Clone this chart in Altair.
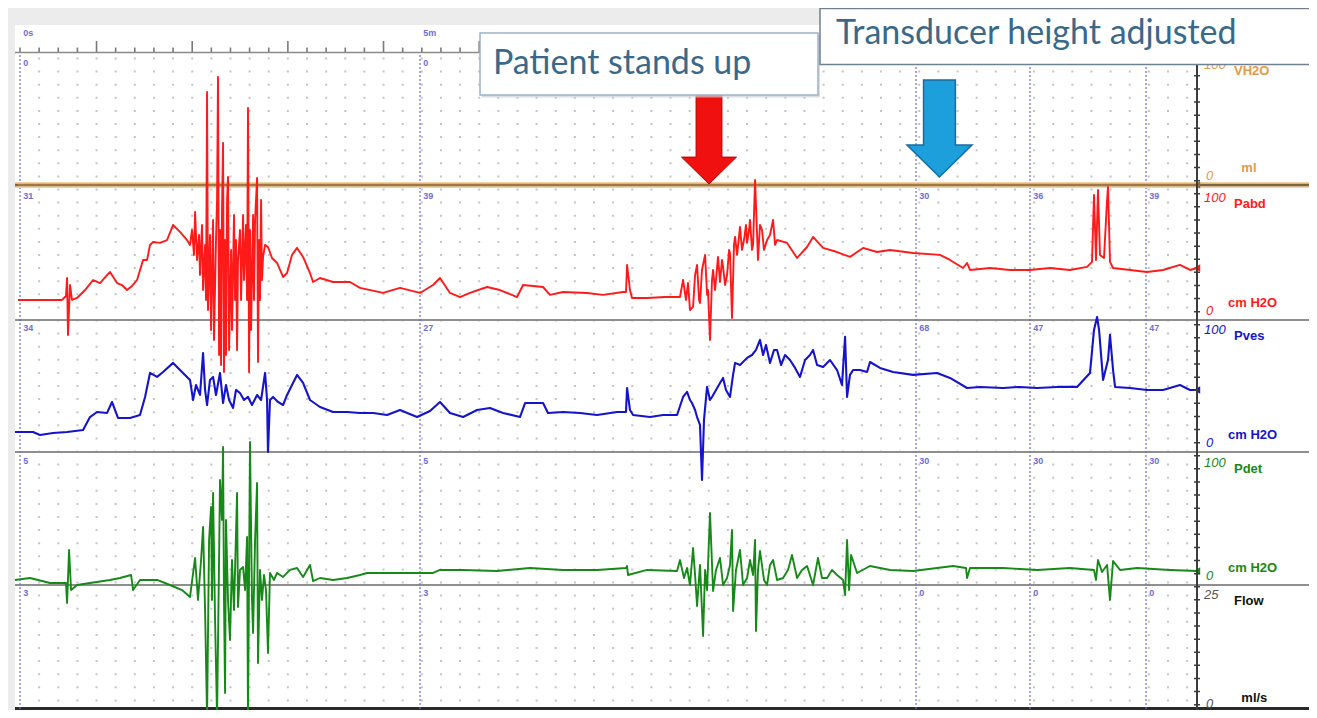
import altair as alt
import pandas as pd

# ---------------- data (time in s, pressure in cmH2O) ----------------
PABD = [(-1.5,15.2),(15,15.2),(31.5,15.2),(34.5,18.2),(35.3,31.8),(36,-11.4),(37.5,26.5),(39,15.2),
 (42.8,16.7),(48.8,22.7),(54.8,30.3),(60,28),(67.5,36.4),(72.8,28),(76.5,26.5),(80.3,22.7),(84,25.8),
 (87.8,30.3),(92.3,45.5),(95.3,45.5),(97.5,56.8),(99.8,59.1),(105,58.4),(110.3,60.6),(114.8,72),
 (120,66.7),(125.3,60.6),(127.5,56.9),(129,68.2),(130.5,49.3),(131.3,81.9),(132.8,45.5),(134.3,64.4),
 (135,34.1),(136.5,72),(137.3,22.7),(138.8,56.9),(139.5,15.2),(140.3,172.8),(141,7.6),(142.5,64.4),
 (143.3,-7.6),(144.8,75.8),(145.5,-15.2),(147,60.6),(147.8,91),(148.5,184.2),(149.3,-26.5),(150,68.2),
 (150.8,-34.1),(151.5,83.4),(152.3,134.2),(153,-39.4),(153.8,60.6),(154.5,-26.5),(155.3,91),(156,108.4),
 (156.8,-22.7),(158.3,53.1),(159,-7.6),(160.5,79.6),(161.3,15.2),(162,60.6),(162.8,-22.7),(163.5,45.5),
 (165,68.2),(165.8,15.2),(167.3,79.6),(168,30.3),(169.5,72),(170.3,15.2),(171,160.7),(171.8,-39.4),
 (172.5,68.2),(173.3,-7.6),(174.8,79.6),(175.5,15.2),(176.3,75.8),(177.8,107.6),(178.5,-31.8),
 (179.3,60.6),(180,15.2),(180.8,91),(181.5,30.3),(182.3,47.8),(183.8,56.9),(186,55.3),(189,47),
 (192.8,43.2),(197.3,32.6),(200.3,35.6),(204,49.3),(207.8,54.6),(212.3,47.8),(217.5,35.6),(219.8,28.8),
 (225,31.8),(234.8,28.8),(247.5,28.8),(255,24.3),(272.3,20.5),(285,24.3),(300,20.5),(309.8,26.5),
 (315,31.8),(322.5,20.5),(330,17.4),(337.5,20.5),(350.3,25),(360,22.7),(372.8,17.4),(377.3,26.5),
 (392.3,25),(397.5,19),(407.3,21.2),(425.3,20.5),(437.3,19),(452.3,21.2),(454.5,21.2),(455.3,41.7),
 (457.5,22.7),(459,16.7),(470.3,16.7),(483.8,17.4),(495,17.4),(497.3,30.3),(499.5,15.2),(501,28),
 (502.5,7.6),(504.8,9.9),(506.3,34.1),(507.8,41.7),(509.3,15.2),(510,12.9),(511.5,37.9),(513.8,49.3),
 (515.3,19),(516,22.7),(517.5,-15.2),(519,30.3),(519.8,37.9),(521.3,22.7),(523.5,47.8),(525,28.8),
 (526.5,45.5),(527.3,40.2),(528.8,26.5),(530.3,34.1),(531.8,53.1),(532.5,50.8),(534,1.5),(535.5,56.9),
 (536.3,62.9),(537.8,49.3),(540,70.5),(541.5,53.1),(543,60.6),(544.5,72),(545.3,58.4),(546.8,68.2),
 (547.5,75.8),(549,53.1),(549.8,56.9),(551.3,106.1),(552.8,64.4),(553.5,45.5),(555,72),(556.5,68.2),
 (558,53.1),(560.3,60.6),(562.5,64.4),(564.8,75.8),(566.3,56.9),(567.8,60.6),(575.3,58.4),(582.8,47),
 (590.3,55.3),(594.8,62.9),(602.3,54.6),(612.8,51.5),(622.5,47.8),(632.3,54.6),(642.8,51.5),(652.5,53),
 (669.8,50.8),(690,49.3),(697.5,45.5),(707.3,39.4),(710.3,43.2),(712.5,37.9),(727.5,39.4),(742.5,37.9),
 (757.5,37.9),(772.5,39.4),(787.5,37.9),(800.3,40.2),(804,44),(805.5,94.7),(807,45.5),(808.5,98.5),
 (810,49.3),(813,47),(815.3,90.9),(816,100.8),(817.5,44),(819.8,39.4),(832.5,37.9),(845.3,36.4),
 (857.3,37.9),(870,41.7),(877.5,37.9),(882.8,39.4)]

PVES = [(-3.8,15.2),(9.8,15.2),(15,12.9),(24.8,14.4),(35.3,15.2),(47.3,16.7),(52.5,26.5),(57.8,30.3),
 (65.3,29.6),(69,37.9),(73.5,25.8),(82.5,25.8),(90,28),(93.8,41.7),(97.5,59.9),(102.8,56.9),(107.3,60.6),
 (114.8,67.5),(121.5,60.6),(127.5,54.6),(129.8,39.4),(132,50.8),(135,43.2),(137.3,75),(138.8,47),
 (140.3,35.6),(142.5,54.6),(144.8,56.9),(147,43.2),(150,59.9),(152.3,37.1),(154.5,50.8),(156.8,39.4),
 (159.8,33.4),(162,47),(165,44.7),(168,39.4),(171,41.7),(174,35.6),(177.8,43.2),(180.8,39.4),(183.8,59.9),
 (185.3,39.4),(186,0),(187.5,39.4),(189.8,41.7),(193.5,37.9),(197.3,35.6),(200.3,43.2),(204,50.8),
 (207.8,58.4),(212.3,52.3),(217.5,39.4),(225,34.1),(234.8,30.3),(245.3,30.3),(255,29.6),(264.8,29.6),
 (275.3,28),(285,31.8),(297.8,26.5),(307.5,31.1),(315,37.9),(322.5,29.6),(332.3,26.5),(342.8,31.8),
 (352.5,33.4),(362.3,29.6),(375,26.5),(378.8,37.1),(392.3,37.1),(396,29.6),(407.3,30.3),(420,29.6),
 (432.8,28),(447.8,30.3),(454.5,30.3),(455.3,48.5),(457.5,31.8),(459.8,28),(472.5,26.5),(482.3,28),
 (492.8,28),(497.3,41.7),(500.3,45.5),(502.5,39.4),(504,37.1),(506.3,31.8),(507.8,26.5),(510,20.5),
 (511.5,-21.2),(513,24.3),(515.3,49.3),(517.5,39.4),(519,41.7),(522,47),(525,52.3),(527.3,56.1),
 (529.5,47),(532.5,41.7),(534.8,58.4),(536.3,67.5),(540,65.9),(545.3,71.3),(549,73.5),(552,77.3),
 (555,84.9),(557.3,73.5),(559.5,81.1),(562.5,67.5),(565.5,77.3),(567.8,77.3),(570.8,65.9),(573.8,73.5),
 (577.5,69.7),(581.3,63.7),(585,56.9),(588.8,69.7),(592.5,73.5),(594.8,77.3),(597.8,65.9),(602.3,64.4),
 (607.5,69.7),(612.8,62.1),(616.5,50.8),(618.8,87.2),(620.3,41.7),(622.5,58.4),(624.8,62.1),(630,62.1),
 (635.3,60.6),(637.5,68.2),(645,63.7),(654.8,60.6),(669.8,58.4),(687.8,59.9),(697.5,56.1),(710.3,48.5),
 (720,49.3),(737.3,48.5),(750,49.3),(762.8,48.5),(777.8,49.3),(792.8,49.3),(802.5,59.9),(805.5,92.5),
 (807.8,102.3),(809.3,92.5),(812.3,54.6),(816,69.7),(817.5,88.7),(819.8,62.1),(821.3,49.3),(832.5,48.5),
 (845.3,47),(857.3,47),(870,50.8),(877.5,47),(882.8,47)]

PDET = [(-3.8,3.8),(7.5,5.3),(22.5,1.5),(32.3,1.5),(34.5,1.5),(35.3,-13.6),(36.8,26.5),(38.3,-3.8),
 (42.8,0),(52.5,1.5),(67.5,3.8),(75,5.3),(83.3,7.6),(84.8,-3.8),(90,3.8),(102.8,3.8),(112.5,0),
 (121.5,-3.8),(127.5,-9.1),(131.3,20.5),(133.5,-11.4),(135.8,18.9),(137.3,44),(138.8,-18.9),
 (140.3,-100),(141.8,34.1),(143.3,59.1),(144,-11.4),(144.8,69.7),(146.3,-26.5),(147.8,-100),
 (149.3,18.9),(150,79.6),(151.5,49.3),(152.3,104.6),(153,-11.4),(153.8,-81.9),(154.5,49.3),(156,-11.4),
 (157.5,-41.7),(159,18.9),(160.5,-18.9),(162.8,69.7),(163.5,-16.7),(165,11.4),(167.3,13.6),(168.8,-3.8),
 (170.3,36.4),(171,-100),(172.5,108.4),(174,-11.4),(174.8,-36.4),(176.3,34.1),(177.8,77.3),(178.5,-59.1),
 (180,11.4),(181.5,-11.4),(183,7.6),(184.5,-3.8),(186,-51.5),(187.5,9.1),(190.5,3.8),(192.8,9.1),
 (197.3,6.1),(202.5,11.4),(207.8,12.9),(212.3,6.1),(217.5,15.2),(219.8,3),(225,5.3),(234.8,3.8),
 (245.3,5.3),(255,7.6),(260.3,9.1),(285,9.1),(309.8,9.1),(315,11.4),(332.3,11.4),(357.8,10.6),
 (382.5,12.9),(407.3,11.4),(432.8,11.4),(454.5,12.9),(455.3,14.4),(456,7.6),(470.3,11.4),(492.8,10.6),
 (495,18.9),(498,5.3),(500.3,12.9),(502.5,0),(504.8,28),(506.3,7.6),(507.8,-15.9),(510,15.2),
 (512.3,-38.6),(513.8,11.4),(515.3,-3.8),(517.5,54.6),(519.8,-4.5),(522,11.4),(525,20.5),(527.3,0),
 (530.3,5.3),(532.5,15.2),(534,41.7),(534.8,-19.7),(537,11.4),(540,26.5),(542.3,0),(545.3,5.3),
 (547.5,18.9),(549.8,7.6),(551.3,34.1),(552,-34.9),(553.5,11.4),(555,25.8),(558,3.8),(560.3,0),
 (562.5,15.2),(564.8,18.9),(567.8,3.8),(572.3,5.3),(576,11.4),(579,22.7),(582.8,5.3),(586.5,11.4),
 (590.3,14.4),(594.8,0),(598.5,20.5),(601.5,5.3),(605.3,5.3),(609,11.4),(612.8,7.6),(617.3,3.8),
 (618.8,-7.6),(620.3,34.1),(621.8,-3.8),(623.3,22.7),(627.8,9.1),(637.5,14.4),(652.5,11.4),(669.8,10.6),
 (687.8,12.9),(699.8,14.4),(709.5,12.9),(710.3,5.3),(712.5,12.9),(737.3,12.9),(762.8,11.4),(787.5,12.9),
 (805.5,11.4),(807,3.8),(808.5,18.9),(811.5,9.8),(815.3,15.2),(817.5,-11.4),(819.8,18.2),(825,11.4),
 (837.8,12.9),(862.5,11.4),(882.8,10.6)]

VINF = [(-1.5, 0), (882.8, 0)]          # infused volume, ml (stays at zero)

CURSOR_T = [0, 300, 672, 757.5, 844.5]   # cursor positions, s
CURSOR_NAMES = {0: "0s", 300: "5m"}
READOUTS = [["0", "31", "34", "5", "3"],
            ["0", "39", "27", "5", "3"],
            ["", "30", "68", "30", "0"],
            ["", "36", "47", "30", "0"],
            ["", "39", "47", "30", "0"]]
EVENTS = [("Patient stands up", 516.75), ("Transducer height adjusted", 689.6)]
CHANNELS = ["Vinf", "Pabd", "Pves", "Pdet", "Flow"]
SCALE_TOP = {"Vinf": ("100", "VH2O"), "Pabd": ("100", "Pabd"), "Pves": ("100", "Pves"),
             "Pdet": ("100", "Pdet"), "Flow": ("25", "Flow")}
SCALE_BOT = {"Vinf": ("0", "ml"), "Pabd": ("0", "cm H2O"), "Pves": ("0", "cm H2O"),
             "Pdet": ("0", "cm H2O"), "Flow": ("0", "ml/s")}

# ---------------- layout (screen rows of the trace sheet) ----------------
ZERO = {"Vinf": 185, "Pabd": 320, "Pves": 452, "Pdet": 585, "Flow": 715}
GAIN = {"Vinf": 1.3, "Pabd": 1.32, "Pves": 1.32, "Pdet": 1.32, "Flow": 5.2}
COL = {"Vinf": "#e39a45", "Pabd": "#ff1a1a", "Pves": "#1414cc", "Pdet": "#168a16", "Flow": "#222222"}
T_END = 882.75
T_MIN, T_MAX = -9, 966.75
TICK = 14.35

XS = alt.Scale(domain=[T_MIN, T_MAX], nice=False, zero=False)
YS = alt.Scale(domain=[8, 710], reverse=True, nice=False, zero=False)


def X(f="t"):
    return alt.X(f"{f}:Q", scale=XS, axis=None)


def Y(f="yy"):
    return alt.Y(f"{f}:Q", scale=YS, axis=None)


def trace_df(pairs, ch):
    d = pd.DataFrame(pairs, columns=["t", "v"])
    d["yy"] = ZERO[ch] - d["v"] * GAIN[ch]
    d["i"] = range(len(d))
    return d


layers = []

# white sheet
sheet = pd.DataFrame({"t": [-3.75], "t2": [T_MAX], "yy": [25], "yy2": [710]})
layers.append(alt.Chart(sheet).mark_rect(color="white").encode(x=X(), x2="t2", y=Y(), y2="yy2"))

# dotted grid columns
grid = pd.DataFrame({"t": [k * TICK for k in range(1, 62)], "yy": 57.5, "yy2": 710})
layers.append(alt.Chart(grid).mark_rule(color="#c4c4c4", strokeWidth=2, strokeDash=[2, 11.1])
              .encode(x=X(), y=Y(), y2="yy2"))

# ruler on top
ruler = pd.DataFrame({"t": [k * TICK for k in range(0, 62)]})
ruler["yy"] = 52.5
ruler["yy2"] = [41 if k % 5 == 4 else 47.5 for k in range(0, 62)]
layers.append(alt.Chart(ruler).mark_rule(color="#7a7a7a", strokeWidth=1.6)
              .encode(x=X(), y=Y(), y2="yy2"))
rline = pd.DataFrame({"t": [-3.75], "t2": [T_MAX], "yy": [52.5]})
layers.append(alt.Chart(rline).mark_rule(color="#8a8a8a", strokeWidth=1.4).encode(x=X(), x2="t2", y=Y()))

# band separators
sep = pd.DataFrame({"t": -3.75, "t2": T_MAX, "yy": [ZERO["Pabd"], ZERO["Pves"], ZERO["Pdet"]]})
layers.append(alt.Chart(sep).mark_rule(color="#8f8f8f", strokeWidth=2).encode(x=X(), x2="t2", y=Y()))
bottom = pd.DataFrame({"t": [-3.75], "t2": [T_MAX], "yy": [708.5]})
layers.append(alt.Chart(bottom).mark_rule(color="#2a2a2a", strokeWidth=3).encode(x=X(), x2="t2", y=Y()))

# cursors
cur = pd.DataFrame({"t": CURSOR_T, "yy": 55, "yy2": 710})
layers.append(alt.Chart(cur).mark_rule(color="#6b6be0", strokeWidth=1.2, strokeDash=[2, 2])
              .encode(x=X(), y=Y(), y2="yy2"))

# infused volume line (zero) with glow
vinf = trace_df(VINF, "Vinf")
vsep = pd.DataFrame({"t": [-3.75], "t2": [T_MAX], "yy": [ZERO["Vinf"]]})
layers.append(alt.Chart(vsep).mark_rule(color="#f3d3a2", strokeWidth=6).encode(x=X(), x2="t2", y=Y()))
layers.append(alt.Chart(vsep).mark_rule(color="#7d6444", strokeWidth=2.4).encode(x=X(), x2="t2", y=Y()))
layers.append(alt.Chart(vinf).mark_line(color="#c58a45", strokeWidth=1.2).encode(x=X(), y=Y(), order="i:Q"))

# traces
for pairs, ch, w in [(PDET, "Pdet", 1.9), (PVES, "Pves", 2.1), (PABD, "Pabd", 1.9)]:
    d = trace_df(pairs, ch)
    layers.append(alt.Chart(d).mark_line(color=COL[ch], strokeWidth=w, clip=True, strokeJoin="round")
                  .encode(x=X(), y=Y(), order="i:Q"))

# end markers
ends = pd.DataFrame({"t": T_END, "yy": [ZERO["Pabd"] - PABD[-1][1] * GAIN["Pabd"],
                                        ZERO["Pves"] - PVES[-1][1] * GAIN["Pves"],
                                        ZERO["Pdet"] - PDET[-1][1] * GAIN["Pdet"],
                                        ZERO["Vinf"]],
                     "c": [COL["Pabd"], COL["Pves"], COL["Pdet"], "#8a6a40"]})
layers.append(alt.Chart(ends).mark_point(shape="triangle-left", size=55, filled=True, opacity=1)
              .encode(x=X(), y=Y(), color=alt.Color("c:N", scale=None)))

# right-hand frame line with small ticks
rframe = pd.DataFrame({"t": [T_END], "yy": [62], "yy2": [710]})
layers.append(alt.Chart(rframe).mark_rule(color="#3c3c3c", strokeWidth=2).encode(x=X(), y=Y(), y2="yy2"))
layers.append(alt.Chart(rframe).mark_rule(color="#3c3c3c", strokeWidth=6, strokeDash=[1.5, 11.6])
              .encode(x=X(), y=Y(), y2="yy2"))

# channel scale labels in the right-hand column
nums, names = [], []
for ch in CHANNELS:
    c = COL[ch] if ch != "Flow" else "#555555"
    top_num, top_name = SCALE_TOP[ch]
    bot_num, bot_name = SCALE_BOT[ch]
    top_y = ZERO[ch] - 100 * GAIN[ch] if ch != "Flow" else ZERO[ch] - 25 * GAIN[ch]
    nums.append({"t": 888, "yy": top_y + 14, "text": top_num, "c": c})
    nums.append({"t": 889.5, "yy": min(ZERO[ch] - 5, 708), "text": bot_num, "c": c})
    cn = COL[ch] if ch != "Flow" else "#111111"
    names.append({"t": 910.5, "yy": top_y + 20, "text": top_name, "c": cn})
    names.append({"t": 906 if bot_name == "cm H2O" else 916, "yy": min(ZERO[ch] - 13, 705),
                  "text": bot_name, "c": cn})
layers.append(alt.Chart(pd.DataFrame(nums)).mark_text(align="left", baseline="alphabetic",
              font="Liberation Sans", fontStyle="italic", fontSize=13)
              .encode(x=X(), y=Y(), text="text:N", color=alt.Color("c:N", scale=None)))
layers.append(alt.Chart(pd.DataFrame(names)).mark_text(align="left", baseline="alphabetic",
              font="Liberation Sans", fontWeight="bold", fontSize=13)
              .encode(x=X(), y=Y(), text="text:N", color=alt.Color("c:N", scale=None)))

# cursor readouts
rd = []
for t, vals in zip(CURSOR_T, READOUTS):
    for ch, v in zip(CHANNELS, vals):
        if v:
            top = ZERO[ch] - 100 * GAIN[ch] if ch != "Flow" else ZERO[ch] - 25 * GAIN[ch]
            rd.append({"t": t + 2.5, "yy": top + 11, "text": v})
    if t in CURSOR_NAMES:
        rd.append({"t": t + 2.5, "yy": 36, "text": CURSOR_NAMES[t]})
layers.append(alt.Chart(pd.DataFrame(rd)).mark_text(align="left", baseline="alphabetic",
              font="Liberation Sans", fontWeight="bold", fontSize=9, color="#4a4acc", opacity=0.8)
              .encode(x=X(), y=Y(), text="text:N"))

# event arrows
arrows = pd.DataFrame({"t": [EVENTS[0][1], EVENTS[1][1]], "yy": [139.5, 128.5]})
red_shape = "M-0.47,-1.62L0.47,-1.62L0.47,0.64L1,0.64L0,1.62L-1,0.64L-0.47,0.64Z"
blue_shape = "M-0.49,-1.49L0.49,-1.49L0.49,0.51L1,0.51L0,1.49L-1,0.51L-0.49,0.51Z"
layers.append(alt.Chart(arrows.iloc[[0]]).mark_point(shape=red_shape, size=3025, filled=True,
              fill="#f01010", stroke="#b80000", strokeWidth=1, opacity=1).encode(x=X(), y=Y()))
layers.append(alt.Chart(arrows.iloc[[1]]).mark_point(shape=blue_shape, size=4225, filled=True,
              fill="#1c9fda", stroke="#1b6b9c", strokeWidth=1.5, opacity=1).encode(x=X(), y=Y()))

# annotation boxes
shadow = pd.DataFrame({"t": [346.5], "t2": [600], "yy": [35], "yy2": [97.5]})
layers.append(alt.Chart(shadow).mark_rect(fill="#c9d1d9", opacity=0.7).encode(x=X(), x2="t2", y=Y(), y2="yy2"))
boxes = pd.DataFrame({"t": [345, 600], "t2": [598.5, T_MAX + 5], "yy": [33, 8.5], "yy2": [95, 64.5],
                      "s": ["#9fb3c7", "#6e8092"]})
layers.append(alt.Chart(boxes).mark_rect(fill="white", strokeWidth=1.5)
              .encode(x=X(), x2="t2", y=Y(), y2="yy2", stroke=alt.Color("s:N", scale=None)))
labels = pd.DataFrame({"t": [354.75, 612], "yy": [74, 44], "text": [EVENTS[0][0], EVENTS[1][0]]})
layers.append(alt.Chart(labels).mark_text(align="left", baseline="alphabetic", font="Lato",
              fontSize=34, color="#39698a")
              .encode(x=X(), y=Y(), text="text:N"))

chart = alt.layer(*layers).properties(
    width=1301, height=702, background="#ececec", padding=0,
    autosize=alt.AutoSizeParams(type="none"),
).configure_view(stroke=None)

chart.save("out.html", embed_options={"renderer": "svg", "actions": False})
